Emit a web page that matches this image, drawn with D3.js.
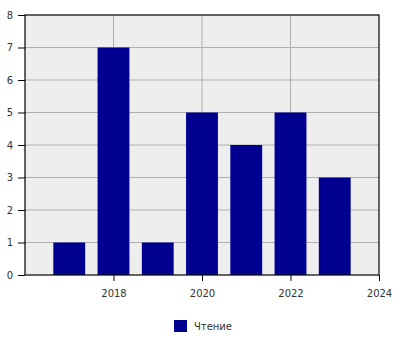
<!DOCTYPE html>
<html>
<head>
<meta charset="utf-8">
<script src="https://cdn.jsdelivr.net/npm/d3@7"></script>
<style>
body { margin: 0; background: #fff; }
svg text { font-family: "DejaVu Sans", sans-serif; }
</style>
</head>
<body>
<div id="chart"></div>
<script>
const years = [2017, 2018, 2019, 2020, 2021, 2022, 2023];
const reading = [1, 7, 1, 5, 4, 5, 3];
const xTicks = [2018, 2020, 2022, 2024];
const yTicks = [0, 1, 2, 3, 4, 5, 6, 7, 8];
const seriesName = 'Чтение';

const width = 400;
const height = 350;
const margin = { top: 15, right: 21, bottom: 75, left: 25 };

const svg = d3.select('#chart')
	.append('svg')
	.attr('width', width)
	.attr('height', height);

const x = d3.scaleLinear()
	.domain([2016, 2024])
	.range([margin.left, width - margin.right]);

const y = d3.scaleLinear()
	.domain([0, 8])
	.range([height - margin.bottom, margin.top]);

// plot background
svg.append('rect')
	.attr('x', x.range()[0])
	.attr('y', y.range()[1])
	.attr('width', x.range()[1] - x.range()[0])
	.attr('height', y.range()[0] - y.range()[1])
	.attr('fill', '#eeeeee');

// grid
svg.append('g')
	.selectAll('line')
	.data(yTicks.slice(1, -1))
	.enter()
	.append('line')
	.attr('x1', x.range()[0])
	.attr('x2', x.range()[1])
	.attr('y1', d => y(d))
	.attr('y2', d => y(d))
	.attr('stroke', '#b0b0b0');

svg.append('g')
	.selectAll('line')
	.data(xTicks.slice(0, -1))
	.enter()
	.append('line')
	.attr('x1', d => x(d))
	.attr('x2', d => x(d))
	.attr('y1', y.range()[0])
	.attr('y2', y.range()[1])
	.attr('stroke', '#b0b0b0');

// bars
const barW = x(2016.72) - x(2016);
svg.append('g')
	.selectAll('rect')
	.data(years)
	.enter()
	.append('rect')
	.attr('x', d => x(d) - barW / 2)
	.attr('y', (d, i) => y(reading[i]))
	.attr('width', barW)
	.attr('height', (d, i) => y(0) - y(reading[i]))
	.attr('fill', '#000090');

// frame
svg.append('rect')
	.attr('x', x.range()[0])
	.attr('y', y.range()[1])
	.attr('width', x.range()[1] - x.range()[0])
	.attr('height', y.range()[0] - y.range()[1])
	.attr('fill', 'none')
	.attr('stroke', '#000')
	.attr('stroke-width', 1.2);

// axes
const xAxis = svg.append('g')
	.attr('transform', `translate(0,${y(0)})`)
	.call(d3.axisBottom(x).tickValues(xTicks).tickFormat(d3.format('d')).tickSize(6).tickPadding(9));

const yAxis = svg.append('g')
	.attr('transform', `translate(${x(2016)},0)`)
	.call(d3.axisLeft(y).tickValues(yTicks).tickSize(7).tickPadding(5));

[xAxis, yAxis].forEach($a => {
	$a.select('.domain').remove();
	$a.selectAll('line').attr('stroke', '#000');
	$a.selectAll('text')
		.attr('fill', '#333')
		.style('font-size', '10px');
});

// legend
const legend = svg.append('g')
	.attr('transform', 'translate(174,320)');

legend.append('rect')
	.attr('width', 13)
	.attr('height', 12)
	.attr('fill', '#000090');

legend.append('text')
	.attr('x', 20)
	.attr('y', 10)
	.attr('fill', '#333')
	.style('font-size', '10px')
	.text(seriesName);
</script>
</body>
</html>
